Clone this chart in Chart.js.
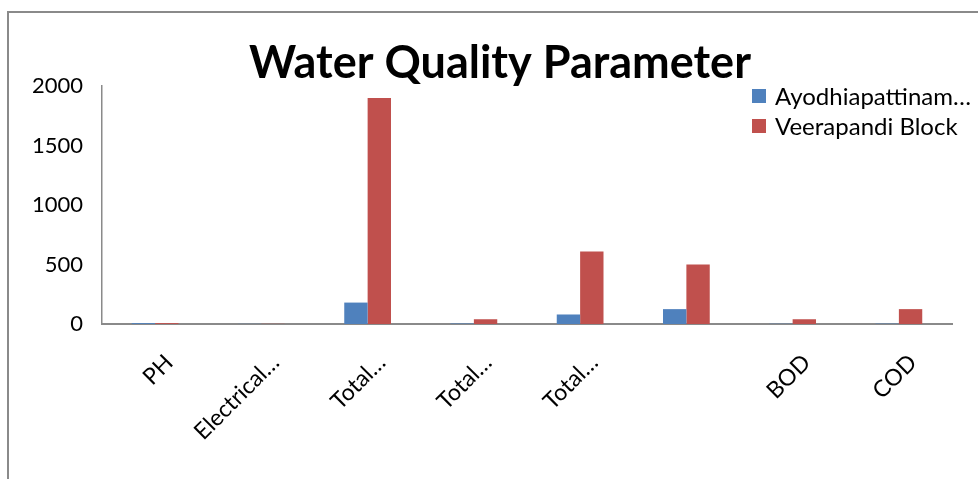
<!DOCTYPE html>
<html><head><meta charset="utf-8">
<script src="https://cdn.jsdelivr.net/npm/chart.js@4"></script>
<style>
html,body{margin:0;padding:0;background:#fff;overflow:hidden;width:978px;height:479px}
#frame{position:absolute;left:7px;top:11px;width:1200px;height:600px;border:2px solid #8a8a8a;box-sizing:border-box}
#wrap{position:absolute;left:0;top:0;width:978px;height:479px}
</style></head>
<body>
<div id="frame"></div>
<div id="wrap"><canvas id="c"></canvas></div>
<script>
const titleText = "Water Quality Parameter";
const categories = ["PH", "Electrical\u2026", "Total\u2026", "Total\u2026", "Total\u2026", "", "BOD", "COD"];
const seriesNames = ["Ayodhiapattinam\u2026", "Veerapandi Block"];
const ayodhiapattinam = [7.2, 1.1, 180, 4, 80, 125, 2, 3];
const veerapandi = [7.6, 1.4, 1900, 40, 610, 500, 40, 125];
const yMin = 0, yMax = 2000, yStep = 500;

const FONT = "Lato";

const overlay = {
  id: "overlay",
  afterDraw(chart) {
    const ctx = chart.ctx;
    ctx.save();
    ctx.fillStyle = "#000";
    ctx.font = "bold 45px " + FONT;
    ctx.textAlign = "center";
    ctx.textBaseline = "middle";
    ctx.fillText(titleText, 500, 63);
    ctx.font = "24px " + FONT;
    ctx.textAlign = "left";
    chart.data.datasets.forEach((ds, i) => {
      const y = 96 + i * 30;
      ctx.fillStyle = ds.backgroundColor;
      ctx.fillRect(752, y - 7, 14, 14);
      ctx.fillStyle = "#000";
      ctx.fillText(ds.label, 775, y + 1);
    });
    ctx.restore();
  }
};

new Chart(document.getElementById("c"), {
  type: "bar",
  data: {
    labels: categories,
    datasets: [
      { label: seriesNames[0], data: ayodhiapattinam, backgroundColor: "#4F81BD", categoryPercentage: 0.44, barPercentage: 1.0 },
      { label: seriesNames[1], data: veerapandi, backgroundColor: "#C0504D", categoryPercentage: 0.44, barPercentage: 1.0 }
    ]
  },
  options: {
    responsive: true,
    maintainAspectRatio: false,
    animation: false,
    layout: { padding: { left: 0, right: 26, top: 86, bottom: 0 } },
    plugins: { legend: { display: false }, title: { display: false }, tooltip: { enabled: false } },
    scales: {
      x: {
        grid: { display: false, drawTicks: false },
        border: { display: true, color: "#8a8a8a", width: 2 },
        ticks: { color: "#000", font: { family: FONT, size: 23 }, maxRotation: 45, minRotation: 45, autoSkip: false, padding: 25, labelOffset: 14 },
        afterFit(s) { s.height = 155; }
      },
      y: {
        min: yMin, max: yMax,
        grid: { display: false, drawTicks: false },
        border: { display: true, color: "#8a8a8a", width: 1.5 },
        ticks: { stepSize: yStep, color: "#000", font: { family: FONT, size: 22 }, padding: 19, callback: v => String(v) },
        afterFit(s) { s.width = 102; }
      }
    }
  },
  plugins: [overlay]
});
</script>
</body></html>
